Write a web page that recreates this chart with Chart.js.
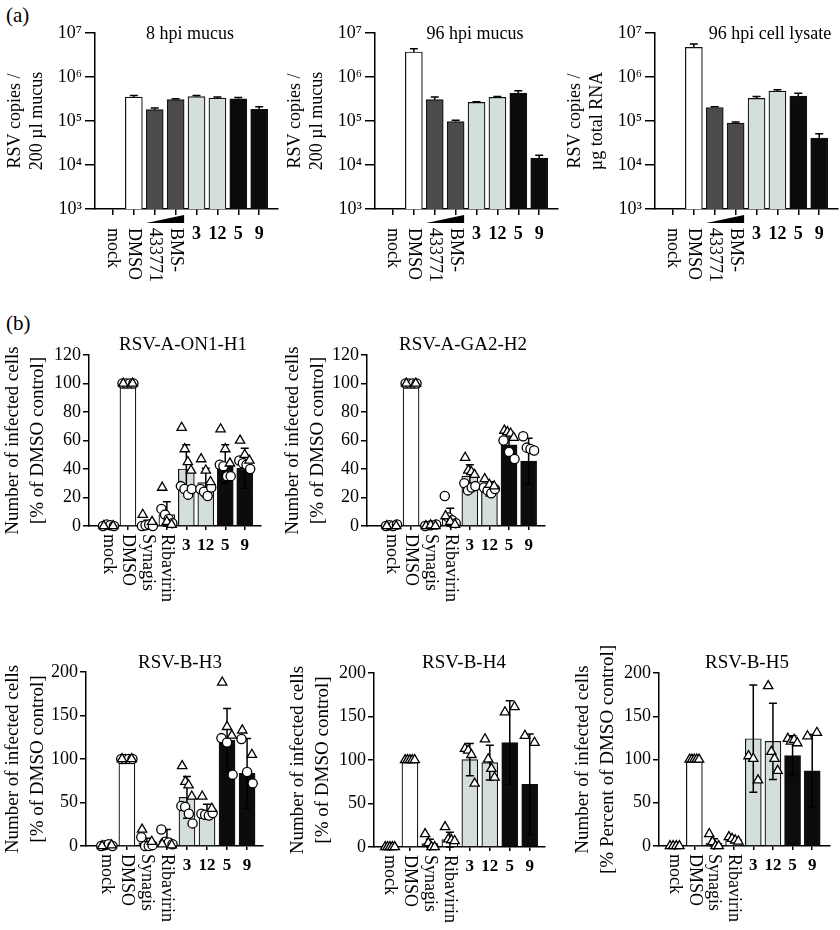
<!DOCTYPE html>
<html>
<head>
<meta charset="utf-8">
<script src="https://cdn.jsdelivr.net/npm/chart.js@4.4.1/dist/chart.umd.min.js"></script>
<style>
  body { margin: 0; background: #fff; width: 840px; height: 930px; position: relative; overflow: hidden; font-family: 'Liberation Serif', serif; }
  canvas { position: absolute; }
  .lab { position: absolute; font-size: 21px; line-height: 1; color: #000; }
</style>
</head>
<body>
<div class="lab" style="left:6px;top:5px">(a)</div>
<div class="lab" style="left:6px;top:313px">(b)</div>
<script>
// categories + ticks
const catsA = ['mock', 'DMSO', '433771', 'BMS-', '3', '12', '5', '9'];
const catsB = ['mock', 'DMSO', 'Synagis', 'Ribavirin', '3', '12', '5', '9'];
const compounds = ['3', '12', '5', '9'];   // printed bold, horizontal
const logTicks = [1e3, 1e4, 1e5, 1e6, 1e7];
const pctTicks120 = [0, 20, 40, 60, 80, 100, 120];
const pctTicks200 = [0, 50, 100, 150, 200];

// (a) RSV copies, bar = mean, err = top of error bar
const mucus8 = [null, 3.5e5, 1.81e5, 3.05e5, 3.57e5, 3.3e5, 3.2e5, 1.84e5];
const mucus8Err = [null, 3.8e5, 1.97e5, 3.2e5, 3.8e5, 3.5e5, 3.4e5, 2.12e5];
const mucus96 = [null, 3.7e6, 3.05e5, 9.7e4, 2.65e5, 3.45e5, 4.33e5, 1.44e4];
const mucus96Err = [null, 4.4e6, 3.5e5, 1.04e5, 2.75e5, 3.6e5, 4.9e5, 1.66e4];
const lysate96 = [null, 4.7e6, 2.03e5, 9.0e4, 3.26e5, 4.8e5, 3.7e5, 4.1e4];
const lysate96Err = [null, 5.6e6, 2.1e5, 9.5e4, 3.6e5, 5.1e5, 4.3e5, 5.1e4];

// (b) infected cells in % of DMSO: mean, sd, single wells (circles / triangles)
const h1Mean = [0.5, 100, 1, 8, 40, 30.5, 43.5, 40.5];
const h1Sd = [0.5, 0.5, 3, 9, 17, 10, 13.5, 14];
const h1Circles = [[0, 1, 0.5, 0], [100, 100, 100, 100], [0, 0.5, 1, 0], [12, 8, 5, 2], [28, 26, 22, 26], [26, 24, 21, 27], [43, 42, 35, 35], [46, 44, 43, 40]];
const h1Tris = [[0, 0], [100, 100], [8, 3], [27, 3, 1], [69, 54, 45, 39], [47, 39, 31], [68, 54, 44], [60, 50, 46]];

const h2Mean = [0.5, 100, 0.5, 5, 35, 26, 57, 45.5];
const h2Sd = [0.5, 0.5, 0.5, 7.5, 8, 5, 8, 16];
const h2Circles = [[0, 0.5, 0, 1], [100, 100, 100, 100], [0, 0.5, 1], [21, 6, 4, 2], [30, 25, 27, 28], [27, 25, 23, 26], [60, 52, 47], [63, 55, 54, 53]];
const h2Tris = [[0, 0], [100, 100], [0, 0.5, 0], [7, 3, 1], [48, 39, 38, 36], [33, 29, 28], [67, 66, 65, 62], []];

const h3Mean = [1, 100, 3, 6, 56, 39.5, 121.5, 83.5];
const h3Sd = [1, 1, 6, 13, 24, 8.5, 36.5, 40];
const h3Circles = [[0, 1, 2, 0], [100, 100, 100, 100], [10, 0, 0, 1], [19, 5, 4, 2], [46, 45, 37, 26], [37, 36, 35, 38], [124, 119, 82], [123, 85, 72]];
const h3Tris = [[0, 1], [100, 100], [19, 5], [2, 1], [92, 74, 70, 57], [57, 43], [188, 137, 127], [133, 105]];

const h4Mean = [0, 100, 3.8, 8.5, 100.5, 97, 120, 72];
const h4Sd = [0.5, 0.5, 5, 8.5, 18.5, 20, 48, 58];
const h4Tris = [[0, 0, 0, 0, 0], [100, 100, 100, 100, 100], [15, 4.6, 0, 0], [23, 9, 8, 7], [113, 111, 106, 73], [124, 101, 90, 80], [155, 161], [128, 120]];

const h5Mean = [0, 100, 3.5, 7.3, 124, 121, 104.5, 87];
const h5Sd = [0.5, 0.5, 5, 2, 62, 44, 23, 42];
const h5Tris = [[0, 0, 0, 0], [100, 100, 100, 100, 100], [14, 4.6, 0, 0], [10.4, 8.5, 6.6, 5.4], [104, 101, 76], [185, 109, 101, 87], [124, 121, 123, 119], [127, 131]];

const FONT = "'Liberation Serif', 'Times New Roman', serif";
const SUP = {3: '\u00b3', 4: '\u2074', 5: '\u2075', 6: '\u2076', 7: '\u2077'};
const WHITE = '#ffffff', DARK = '#4b4b4b', LIGHT = '#d4dfdb', BLACK = '#0c0c0c';
const colA = [WHITE, WHITE, DARK, DARK, LIGHT, LIGHT, BLACK, BLACK];
const colB = [WHITE, WHITE, WHITE, WHITE, LIGHT, LIGHT, BLACK, BLACK];

Chart.defaults.font.family = FONT;
Chart.defaults.color = '#000';

function spread(k, n, w) { return n < 2 ? 0 : -w + 2 * w * k / (n - 1); }

function points(lists, w) {
  const pts = [];
  lists.forEach((vals, i) => vals.forEach((v, k) => pts.push({x: i + spread(k, vals.length, w), y: v})));
  return pts;
}

function makeChart(o) {
  const ct = o.top - 40;
  const W = o.right + 4 - o.L, H = o.bottom + 100 - ct;
  const cv = document.createElement('canvas');
  cv.width = W; cv.height = H;
  cv.style.left = o.L + 'px'; cv.style.top = ct + 'px';
  document.body.appendChild(cv);

  const isLog = !!o.err;
  const datasets = [{
    type: 'bar',
    data: o.values.map((v, i) => ({x: i, y: v})),
    backgroundColor: o.colors, borderColor: '#111', borderWidth: 1.2,
    barThickness: o.bw, order: 3
  }];
  if (o.circles) datasets.push({type: 'scatter', data: points(o.circles, 0.28), pointStyle: 'circle', pointRadius: 4.6,
    backgroundColor: '#fff', borderColor: '#000', borderWidth: 1.3, order: 1, clip: false});
  if (o.tris) datasets.push({type: 'scatter', data: points(o.tris, 0.24), pointStyle: 'triangle', pointRadius: 5.4,
    backgroundColor: '#fff', borderColor: '#000', borderWidth: 1.3, order: 0, clip: false});

  const deco = {
    id: 'deco',
    afterDatasetDraw(chart, args) {
      if (args.index !== 0) return;
      const {ctx, scales: {x, y}} = chart;
      ctx.save();
      ctx.strokeStyle = '#000'; ctx.lineWidth = 1.5;
      o.values.forEach((v, i) => {
        if (v == null) return;
        const px = x.getPixelForValue(i);
        let lo, hi;
        if (isLog) { lo = v; hi = o.err[i]; } else { lo = Math.max(v - o.sd[i], 0); hi = v + o.sd[i]; }
        const y1 = y.getPixelForValue(lo), y2 = y.getPixelForValue(hi);
        ctx.beginPath();
        ctx.moveTo(px, y1); ctx.lineTo(px, y2);
        ctx.moveTo(px - 4, y2); ctx.lineTo(px + 4, y2);
        if (!isLog) { ctx.moveTo(px - 4, y1); ctx.lineTo(px + 4, y1); }
        ctx.stroke();
      });
      ctx.restore();
    },
    afterDraw(chart) {
      const {ctx, chartArea, scales: {x}} = chart;
      ctx.save();
      ctx.fillStyle = '#000';
      ctx.font = o.titleSize + 'px ' + FONT;
      ctx.textAlign = 'center'; ctx.textBaseline = 'middle';
      ctx.fillText(o.title, o.titleX - o.L, o.titleY - ct);
      o.cats.forEach((c, i) => {
        const px = x.getPixelForValue(i);
        if (compounds.includes(c)) {
          ctx.font = 'bold ' + o.numSize + 'px ' + FONT;
          ctx.textAlign = 'center'; ctx.textBaseline = 'top';
          ctx.fillText(c, px, chartArea.bottom + o.numTop);
        } else {
          ctx.save();
          ctx.translate(px, chartArea.bottom + o.rotTop);
          ctx.rotate(Math.PI / 2);
          ctx.font = o.labSize + 'px ' + FONT;
          ctx.textAlign = 'left'; ctx.textBaseline = 'middle';
          ctx.fillText(c, 0, 0);
          ctx.restore();
        }
      });
      if (o.wedge) {
        // increasing BMS-433771 concentration
        const x0 = x.getPixelForValue(2) - o.bw / 2, x1 = x.getPixelForValue(3) + o.bw / 2;
        const b = chartArea.bottom;
        ctx.beginPath();
        ctx.moveTo(x0, b + 14); ctx.lineTo(x1, b + 14); ctx.lineTo(x1, b + 6);
        ctx.closePath(); ctx.fill();
      }
      ctx.restore();
    }
  };

  const yScale = isLog ? {
    type: 'logarithmic', min: 1e3, max: 1e7,
    afterBuildTicks: s => { s.ticks = logTicks.map(v => ({value: v})); },
    ticks: {callback: v => '10' + SUP[Math.round(Math.log10(v))], font: {size: o.tickSize}, padding: 3}
  } : {
    type: 'linear', min: 0, max: o.ticks[o.ticks.length - 1],
    afterBuildTicks: s => { s.ticks = o.ticks.map(v => ({value: v})); },
    ticks: {font: {size: o.tickSize}, padding: 2}
  };
  Object.assign(yScale, {
    grid: {drawOnChartArea: false, tickLength: isLog ? 10 : 6, color: '#000', lineWidth: 1.5},
    border: {color: '#000', width: 1.5},
    title: {display: true, text: o.ytitle, color: '#000',
      font: {size: o.ytitleSize, lineHeight: o.ytitleLH / o.ytitleSize}, padding: {top: o.ytitlePad, bottom: 0}},
    afterFit: s => { s.width = o.axisX - o.L; }
  });

  new Chart(cv, {
    type: 'bar',
    data: {datasets},
    options: {
      responsive: false, animation: false, events: [],
      layout: {padding: {left: 0, top: 40, right: 4, bottom: 0}},
      plugins: {legend: {display: false}, tooltip: {enabled: false}},
      scales: {
        x: {
          type: 'linear', min: o.xmin, max: o.xmax, offset: false,
          afterBuildTicks: s => { s.ticks = o.cats.map((c, i) => ({value: i})); },
          afterFit: s => { s.height = 100; },
          ticks: {display: false},
          grid: {drawOnChartArea: false, offset: false, tickLength: o.dotted ? 4 : 6, color: '#000', lineWidth: 1.5},
          border: {color: '#000', width: 1.5, dash: o.dotted ? [2, 2] : []}
        },
        y: yScale
      }
    },
    plugins: [deco]
  });
}

const aBase = {cats: catsA, colors: colA, top: 33, bottom: 209, xmin: -0.86, xmax: 7.9, bw: 17, wedge: true,
  tickSize: 18, titleSize: 18, titleY: 34, ytitleSize: 18, ytitleLH: 22, ytitlePad: 4,
  labSize: 18, numSize: 18, rotTop: 19, numTop: 16};
makeChart(Object.assign({}, aBase, {L: 0, axisX: 95, right: 278, values: mucus8, err: mucus8Err,
  title: '8 hpi mucus', titleX: 190, ytitle: ['RSV copies /', '200 \u00b5l mucus']}));
makeChart(Object.assign({}, aBase, {L: 280, axisX: 375, right: 558, values: mucus96, err: mucus96Err,
  title: '96 hpi mucus', titleX: 475, ytitle: ['RSV copies /', '200 \u00b5l mucus']}));
makeChart(Object.assign({}, aBase, {L: 560, axisX: 655, right: 838, values: lysate96, err: lysate96Err,
  title: '96 hpi cell lysate', titleX: 770, ytitle: ['RSV copies /', '\u00b5g total RNA']}));

const bBase = {cats: catsB, colors: colB, bw: 16, dotted: true,
  tickSize: 18, titleSize: 19, ytitleSize: 19, ytitleLH: 25, ytitlePad: 0.5,
  labSize: 18, numSize: 17, rotTop: 8, numTop: 11,
  ytitle: ['Number of infected cells', '[% of DMSO control]']};
makeChart(Object.assign({}, bBase, {L: 0, axisX: 89, right: 263, top: 355, bottom: 526, xmin: -1.0, xmax: 7.8,
  ticks: pctTicks120, values: h1Mean, sd: h1Sd, circles: h1Circles, tris: h1Tris,
  title: 'RSV-A-ON1-H1', titleX: 183, titleY: 345}));
makeChart(Object.assign({}, bBase, {L: 280, axisX: 367, right: 547, top: 355, bottom: 526, xmin: -1.25, xmax: 7.8,
  ticks: pctTicks120, values: h2Mean, sd: h2Sd, circles: h2Circles, tris: h2Tris,
  title: 'RSV-A-GA2-H2', titleX: 463, titleY: 345}));
makeChart(Object.assign({}, bBase, {L: 0, axisX: 86, right: 265, top: 672, bottom: 846, xmin: -1.04, xmax: 7.76,
  ticks: pctTicks200, values: h3Mean, sd: h3Sd, circles: h3Circles, tris: h3Tris,
  title: 'RSV-B-H3', titleX: 180, titleY: 663}));
makeChart(Object.assign({}, bBase, {L: 285, axisX: 374, right: 547, top: 673, bottom: 847, xmin: -0.8, xmax: 7.73,
  ticks: pctTicks200, values: h4Mean, sd: h4Sd, tris: h4Tris,
  title: 'RSV-B-H4', titleX: 464, titleY: 663}));
makeChart(Object.assign({}, bBase, {L: 570, axisX: 659, right: 832, top: 673, bottom: 846, xmin: -0.8, xmax: 7.87,
  ticks: pctTicks200, values: h5Mean, sd: h5Sd, tris: h5Tris,
  title: 'RSV-B-H5', titleX: 747, titleY: 663,
  ytitle: ['Number of infected cells', '[% Percent of DMSO control]']}));
</script>
</body>
</html>
